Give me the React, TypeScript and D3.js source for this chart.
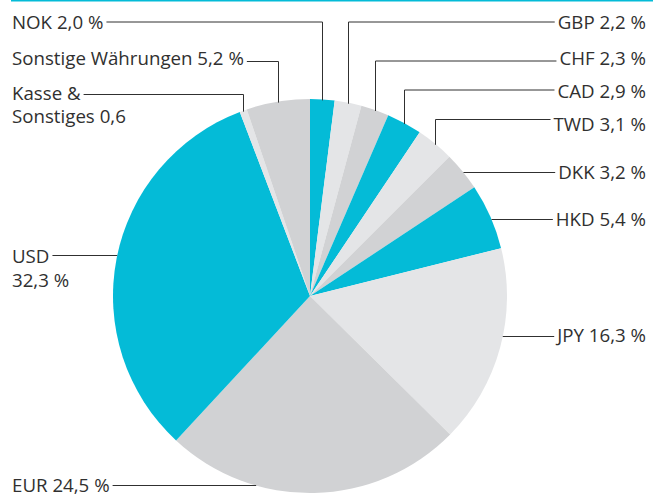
import React, { useEffect, useRef } from "react";
import * as d3 from "d3";

const categories = ["NOK", "GBP", "CHF", "CAD", "TWD", "DKK", "HKD", "JPY", "EUR", "USD", "Kasse & Sonstiges", "Sonstige Währungen"];
const values = [2.0, 2.2, 2.3, 2.9, 3.1, 3.2, 5.4, 16.3, 24.5, 32.3, 0.6, 5.2];
const labelLines = [
  ["NOK 2,0 %"],
  ["GBP 2,2 %"],
  ["CHF 2,3 %"],
  ["CAD 2,9 %"],
  ["TWD 3,1 %"],
  ["DKK 3,2 %"],
  ["HKD 5,4 %"],
  ["JPY 16,3 %"],
  ["EUR 24,5 %"],
  ["USD", "32,3 %"],
  ["Kasse &", "Sonstiges 0,6"],
  ["Sonstige Währungen 5,2 %"],
];

const COLORS = ["#04bbd7", "#e4e5e7", "#d1d2d4"];

// layout for labels (positions, not data)
type Lay = { side: "left" | "right"; base: number[]; lineY: number; kind: "elbow" | "flat" };
const layout: Lay[] = [
  { side: "left", base: [29], lineY: 22, kind: "elbow" },
  { side: "right", base: [29], lineY: 22, kind: "elbow" },
  { side: "right", base: [65], lineY: 61, kind: "elbow" },
  { side: "right", base: [98], lineY: 90, kind: "elbow" },
  { side: "right", base: [131], lineY: 119.5, kind: "elbow" },
  { side: "right", base: [179], lineY: 172.5, kind: "flat" },
  { side: "right", base: [226], lineY: 219.5, kind: "flat" },
  { side: "right", base: [342], lineY: 336.5, kind: "flat" },
  { side: "left", base: [492], lineY: 485.5, kind: "flat" },
  { side: "left", base: [263, 287], lineY: 255.5, kind: "flat" },
  { side: "left", base: [100, 123], lineY: 94.5, kind: "elbow" },
  { side: "left", base: [65], lineY: 61.5, kind: "elbow" },
];

const W = 653;
const H = 497;
const CX = 310;
const CY = 296;
const R = 197;
const LEFT_X = 12;
const RIGHT_X = 646;
const FONT = "'Open Sans', sans-serif";
const FS = 18.7;

export default function App() {
  const ref = useRef<SVGSVGElement>(null);
  useEffect(() => {
    const svg = d3.select(ref.current);
    svg.selectAll("*").remove();

    svg.append("rect").attr("x", 11).attr("y", 0).attr("width", W - 11).attr("height", 1.5).attr("fill", COLORS[0]);

    const pie = d3.pie<number>().sort(null).value((d) => d);
    const arcs = pie(values);
    const arc = d3.arc<d3.PieArcDatum<number>>().innerRadius(0).outerRadius(R);

    const g = svg.append("g").attr("transform", `translate(${CX},${CY})`);
    g.selectAll("path")
      .data(arcs)
      .join("path")
      .attr("d", arc)
      .attr("fill", (_, i) => COLORS[i % 3]);

    const lab = svg.append("g");
    arcs.forEach((a, i) => {
      const L = layout[i];
      const t = lab
        .append("text")
        .attr("font-family", FONT)
        .attr("font-size", FS)
        .attr("fill", "#303030")
        .attr("text-anchor", L.side === "left" ? "start" : "end");
      labelLines[i].forEach((s, k) => {
        t.append("tspan").attr("x", L.side === "left" ? LEFT_X : RIGHT_X).attr("y", L.base[k]).text(s);
      });
      const firstSpan = t.select("tspan").node() as SVGTSpanElement;
      const w = firstSpan.getComputedTextLength();
      const textEdge = L.side === "left" ? LEFT_X + w + 3 : RIGHT_X - w - 3;
      let pts: [number, number][];
      if (L.kind === "elbow") {
        const mid = (a.startAngle + a.endAngle) / 2;
        const px = CX + R * Math.sin(mid);
        const py = CY - R * Math.cos(mid);
        pts = [
          [textEdge, L.lineY],
          [Math.round(px) + 0.5, L.lineY],
          [Math.round(px) + 0.5, py + 1],
        ];
      } else {
        const dy = L.lineY - CY;
        const dx = Math.sqrt(R * R - dy * dy);
        const ex = L.side === "left" ? CX - dx : CX + dx;
        pts = [
          [textEdge, L.lineY],
          [ex, L.lineY],
        ];
      }
      lab
        .append("path")
        .attr("d", d3.line()(pts))
        .attr("fill", "none")
        .attr("stroke", "#303030")
        .attr("stroke-width", 1);
    });
  }, []);
  return (
    <svg
      ref={ref}
      width={W}
      height={H}
      style={{ position: "absolute", left: 0, top: 0, display: "block", background: "#fff" }}
    />
  );
}
